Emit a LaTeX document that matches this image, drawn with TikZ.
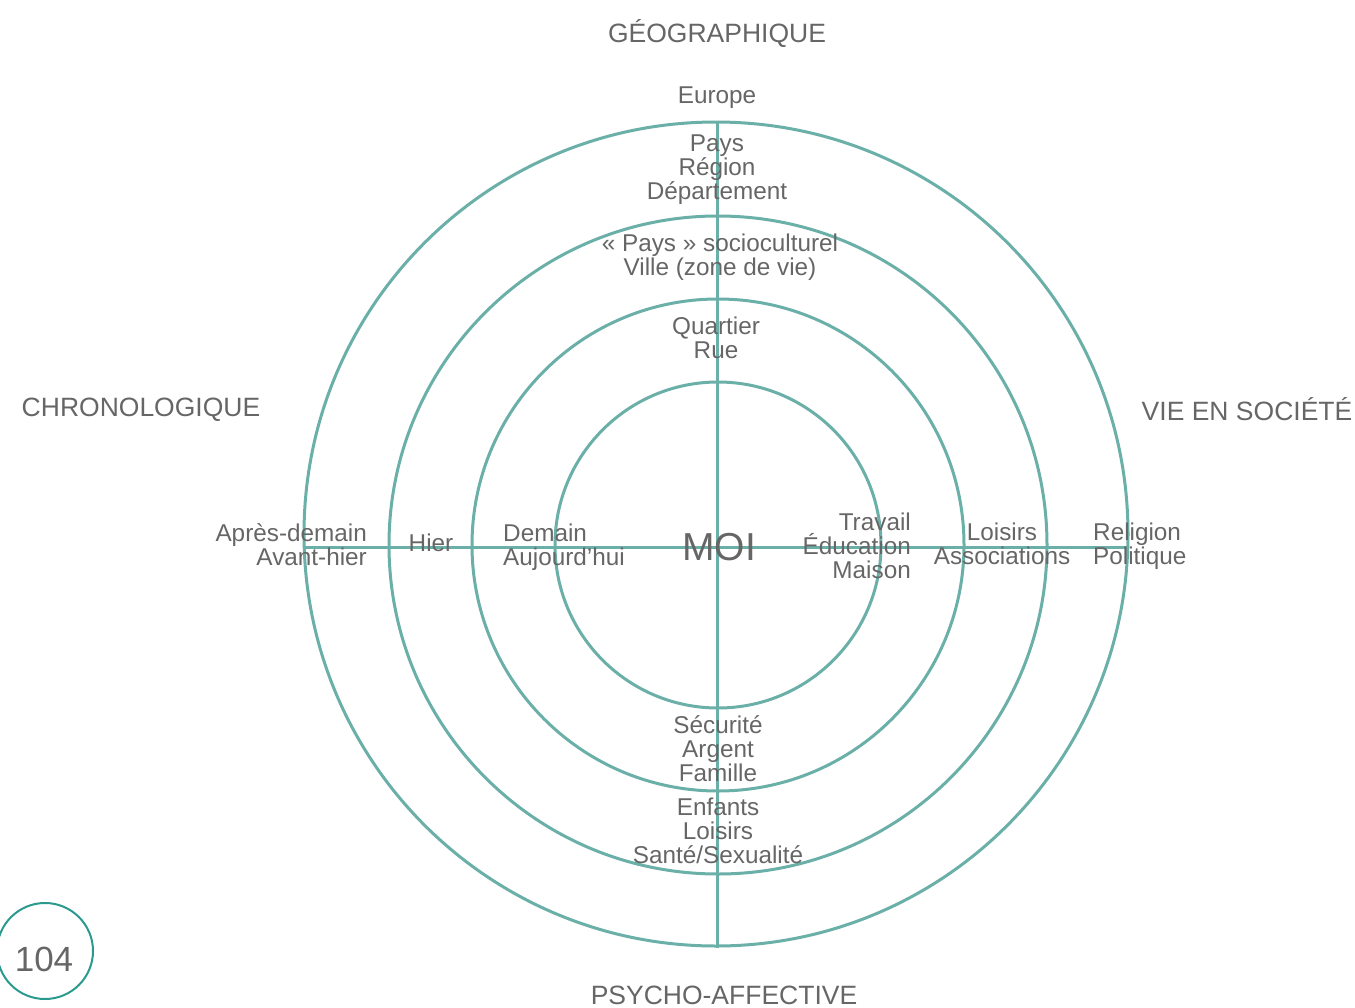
\documentclass[tikz,border=0pt]{standalone}
\usepackage{fontspec}
\setmainfont{Liberation Sans}
\definecolor{ringteal}{HTML}{6AAFA8}
\definecolor{pageteal}{HTML}{2A9A8E}
\definecolor{textgray}{HTML}{666666}

\begin{document}
\begin{tikzpicture}[x=1pt, y=-1pt,
  ring/.style = {draw=ringteal, line width=3pt},
  pagering/.style = {draw=pageteal, line width=2pt},
  lbl/.style = {text=textgray, inner sep=0pt, align=center,
    font=\fontsize{24.3}{24}\selectfont},
  axis/.style = {text=textgray, inner sep=0pt,
    font=\fontsize{26.5}{28}\selectfont}]
  \useasboundingbox (0,0) rectangle (1355,1007);

  % rings
  \foreach \r in {163, 246, 329}
    \draw[ring] (718,545) circle[radius=\r];
  \draw[ring] (716,534) circle[radius=412];
  \coordinate (top) at (717,121);
  \coordinate (bottom) at (717,948);
  \coordinate (left) at (303,547);
  \coordinate (right) at (1129,547);
  \draw[ring] (top) -- (bottom);
  \draw[ring] (left) -- (right);

  % the four directions
  \node[axis] (geo) at (717,34) {GÉOGRAPHIQUE};
  \node[axis] (chrono) at (141,410) {CHRONOLOGIQUE};
  \node[axis] (societe) at (1247,409) {VIE EN SOCIÉTÉ};
  \node[axis] (psycho) at (724,995) {PSYCHO-AFFECTIVE};

  \node[lbl, font=\fontsize{39}{40}\selectfont] (moi) at (719,547) {MOI};

  % geographique
  \node[lbl] (europe) at (717,98) {Europe};
  \node[lbl] (pays) at (717,170) {Pays\\Région\\Département};
  \node[lbl] (ville) at (720,257) {« Pays » socioculturel\\Ville (zone de vie)};
  \node[lbl] (quartier) at (716,338) {Quartier\\Rue};

  % chronologique
  \node[lbl, align=right, anchor=east] (apres) at (367,545) {Après-demain\\Avant-hier};
  \node[lbl] (hier) at (431,543) {Hier};
  \node[lbl, align=left, anchor=west] (demain) at (503,547) {Demain\\Aujourd’hui};

  % vie en societe
  \node[lbl, align=right, anchor=east] (travail) at (911,546) {Travail\\Éducation\\Maison};
  \node[lbl] (loisirs) at (1002,544) {Loisirs\\Associations};
  \node[lbl, align=left, anchor=west] (religion) at (1093,546) {Religion\\Politique};

  % psycho-affective
  \node[lbl] (securite) at (718,749) {Sécurité\\Argent\\Famille};
  \node[lbl] (enfants) at (718,831) {Enfants\\Loisirs\\Santé/Sexualité};

  % page number
  \draw[pagering] (45,951) circle[radius=48];
  \node[lbl, font=\fontsize{35}{36}\selectfont] (page) at (44,959) {104};
\end{tikzpicture}
\end{document}
